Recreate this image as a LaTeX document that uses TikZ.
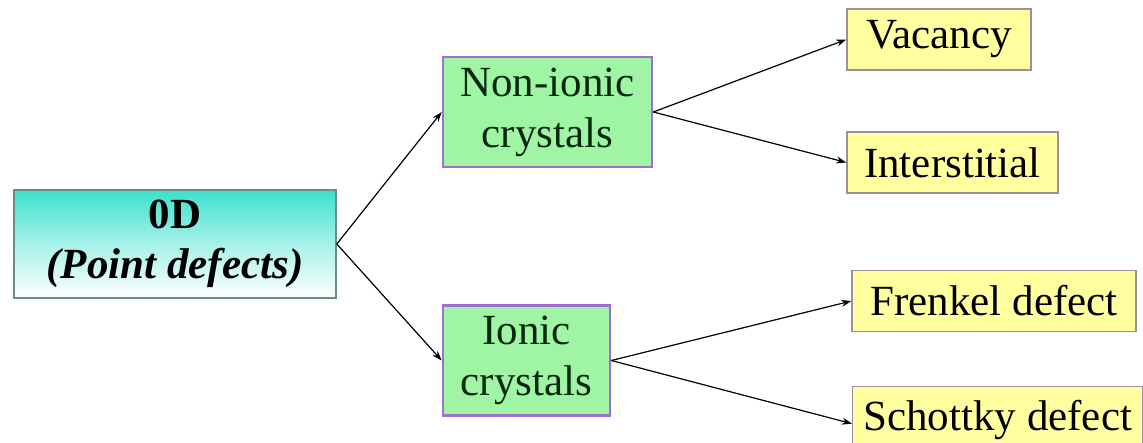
\documentclass[tikz,border=0pt]{standalone}
\usepackage{fontspec}
\setmainfont{Liberation Serif}
\usetikzlibrary{arrows.meta}
\definecolor{teal0}{RGB}{60,224,206}
\definecolor{tealborder}{RGB}{110,140,135}
\definecolor{greenfill}{RGB}{160,245,165}
\definecolor{purpleborder}{RGB}{160,110,210}
\definecolor{yellowfill}{RGB}{255,255,160}
\definecolor{yellowborder}{RGB}{160,140,160}
\definecolor{darkgreen}{RGB}{5,40,15}
\tikzset{
  rootbox/.style={draw=tealborder, line width=0.8pt, top color=teal0, bottom color=white, middle color=teal0!45!white,
    minimum width=161pt, minimum height=54pt, align=center, inner sep=0pt, font=\fontsize{21.5}{26}\selectfont\bfseries, text=black},
  midbox/.style={draw=purpleborder, line width=1.3pt, fill=greenfill, align=center, inner sep=0pt,
    minimum height=55pt, font=\fontsize{21.5}{25.5}\selectfont, text=darkgreen},
  leafbox/.style={draw=yellowborder, line width=0.7pt, fill=yellowfill, inner sep=0pt,
    minimum height=30.5pt, font=\fontsize{21.5}{25}\selectfont, text=black},
  conn/.style={draw=black, line width=0.6pt, -{Stealth[length=5pt,width=3.5pt]}}
}
\begin{document}
\begin{tikzpicture}[x=0.5pt,y=-0.5pt]
\useasboundingbox (0,0) rectangle (1143,443);
\clip (0,0) rectangle (1143,443);
\node[rootbox] (root) at (175,244) {0D\\[-1pt]\textit{(Point defects)}};
\node[midbox, minimum width=104.5pt] (nonionic) at (547.5,112) {Non-ionic\\crystals};
\node[midbox, minimum width=83.5pt] (ionic) at (526.5,360.5) {Ionic\\crystals};
\node[leafbox, minimum width=92pt] (vac) at (939,39.5) {Vacancy};
\node[leafbox, minimum width=105.5pt] (inter) at (952.5,162.5) {Interstitial};
\node[leafbox, minimum width=142pt] (frenkel) at (994,301) {Frenkel defect};
\node[leafbox, minimum width=145pt, minimum height=33pt, anchor=north west] (schottky) at (852,386) {\raisebox{-1pt}{Schottky defect}};
\draw[conn] (root.east) -- (nonionic.west);
\draw[conn] (root.east) -- (ionic.west);
\draw[conn] (nonionic.east) -- (vac.west);
\draw[conn] (nonionic.east) -- (inter.west);
\draw[conn] (ionic.east) -- (frenkel.west);
\draw[conn] (ionic.east) -- ([yshift=-2pt]schottky.west);
\end{tikzpicture}
\end{document}
